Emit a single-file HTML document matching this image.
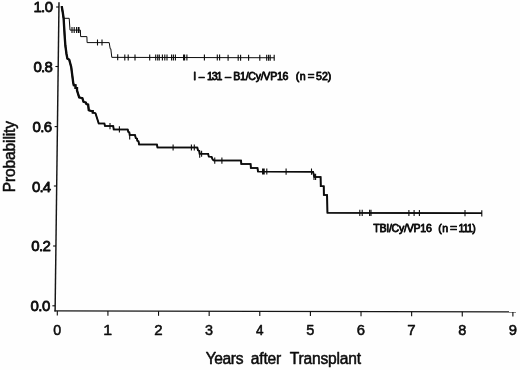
<!DOCTYPE html>
<html lang="en">
<head>
<meta charset="utf-8">
<title>Probability vs Years after Transplant</title>
<style>
html,body{margin:0;padding:0;background:#fefefe;}
body{width:520px;height:370px;overflow:hidden;font-family:"Liberation Sans",Arial,Helvetica,sans-serif;}
svg{display:block;}
</style>
</head>
<body>
<svg width="520" height="370" viewBox="0 0 520 370">
<rect width="520" height="370" fill="#fefefe"/>
<g fill="none" stroke="#0c0c0c" stroke-linecap="butt" stroke-linejoin="miter">
<path d="M59.0,2.2 L55.1,311.4" stroke-width="1.45" stroke="#161616"/>
<path d="M54.4,310.9 L516,311.9" stroke-width="1.35" stroke="#161616"/>
<path d="M56.14,7.0 L58.94,7.0" stroke-width="1.1"/>
<path d="M55.39,66.5 L58.19,66.5" stroke-width="1.1"/>
<path d="M54.63,126.6 L57.43,126.6" stroke-width="1.1"/>
<path d="M53.88,186.0 L56.68,186.0" stroke-width="1.1"/>
<path d="M53.13,246.0 L55.93,246.0" stroke-width="1.1"/>
<path d="M52.37,305.8 L55.17,305.8" stroke-width="1.1"/>
<path d="M57.30,311.00 L57.30,315.60" stroke-width="1.1"/>
<path d="M107.92,311.10 L107.92,315.70" stroke-width="1.1"/>
<path d="M158.54,311.20 L158.54,315.80" stroke-width="1.1"/>
<path d="M209.16,311.30 L209.16,315.90" stroke-width="1.1"/>
<path d="M259.78,311.40 L259.78,316.00" stroke-width="1.1"/>
<path d="M310.40,311.50 L310.40,316.10" stroke-width="1.1"/>
<path d="M361.02,311.60 L361.02,316.20" stroke-width="1.1"/>
<path d="M411.64,311.70 L411.64,316.30" stroke-width="1.1"/>
<path d="M462.26,311.79 L462.26,316.39" stroke-width="1.1"/>
<path d="M512.88,311.89 L512.88,316.49" stroke-width="1.1"/>
<path d="M61.70,6.30 L63.40,18.30 L69.20,18.30 L70.00,30.10 L80.40,30.10 L80.60,36.60 L86.90,36.60 L87.10,42.60 L109.20,42.60 L110.20,48.75 L110.80,48.75 L111.80,57.35 L274.20,57.75" stroke-width="1.0"/>
<path d="M72.00,27.10 L72.00,33.10 M74.20,27.10 L74.20,33.10 M76.60,27.10 L76.60,33.10 M78.40,27.10 L78.40,33.10 M79.00,27.10 L79.00,33.10 M97.50,39.60 L97.50,45.60 M102.00,39.60 L102.00,45.60 M117.70,54.36 L117.70,60.36 M124.80,54.38 L124.80,60.38 M128.20,54.39 L128.20,60.39 M135.00,54.41 L135.00,60.41 M149.70,54.44 L149.70,60.44 M155.70,54.46 L155.70,60.46 M157.70,54.46 L157.70,60.46 M159.30,54.47 L159.30,60.47 M162.40,54.47 L162.40,60.47 M164.80,54.48 L164.80,60.48 M167.00,54.49 L167.00,60.49 M171.60,54.50 L171.60,60.50 M173.40,54.50 L173.40,60.50 M175.40,54.51 L175.40,60.51 M183.60,54.53 L183.60,60.53 M184.60,54.53 L184.60,60.53 M186.90,54.53 L186.90,60.53 M204.40,54.58 L204.40,60.58 M217.30,54.61 L217.30,60.61 M219.60,54.62 L219.60,60.62 M228.10,54.64 L228.10,60.64 M238.20,54.66 L238.20,60.66 M240.60,54.67 L240.60,60.67 M248.60,54.69 L248.60,60.69 M259.80,54.71 L259.80,60.71 M266.70,54.73 L266.70,60.73 M268.60,54.74 L268.60,60.74 M270.20,54.74 L270.20,60.74 M274.20,54.75 L274.20,60.75" stroke-width="1.1"/>
<path transform="translate(-0.22,0)" d="M61.70,6.20 L62.70,12.00 L63.60,18.00 L64.20,28.00 L64.80,38.00 L65.40,46.00 L66.50,54.00 L67.40,58.60 L69.20,59.60 L71.20,67.00 L73.20,82.60 L73.80,85.30 L75.50,85.30 L75.50,88.00 L77.00,88.00 L77.00,90.30 L77.80,93.00 L79.20,97.40 L82.30,98.00 L83.50,101.80 L85.80,102.50 L86.50,104.20 L88.10,104.50 L88.80,110.30 L91.50,111.00 L92.70,111.00 L92.70,112.60 L95.40,112.90" stroke-width="1.9"/>
<path transform="translate(-0.22,0)" d="M95.40,112.90 L98.75,123.50 L104.40,123.50 L105.00,126.10 L113.20,126.10 L113.75,129.40 L127.70,129.40 L128.30,132.00 L129.30,132.40 L129.70,135.10 L135.00,135.10 L135.80,138.20 L137.00,138.50 L137.30,140.80 L138.50,141.20 L139.10,144.60 L156.90,144.60 L157.50,147.50 L197.30,147.50 L198.00,150.40 L199.20,150.70 L199.60,153.75 L208.10,153.75 L208.80,156.60 L211.50,156.80 L212.70,159.60 L213.80,160.60 L241.00,160.60 L241.30,164.00 L250.60,164.00 L250.90,168.00 L257.50,168.00 L258.00,171.60 L313.00,171.70 L314.40,176.90 L320.60,176.90 L320.80,186.25 L323.75,186.25 L323.90,194.90 L327.05,194.90 L327.45,212.80 L481.80,213.30" stroke-width="1.5"/>
<path transform="translate(0.22,0)" d="M61.70,6.20 L62.70,12.00 L63.60,18.00 L64.20,28.00 L64.80,38.00 L65.40,46.00 L66.50,54.00 L67.40,58.60 L69.20,59.60 L71.20,67.00 L73.20,82.60 L73.80,85.30 L75.50,85.30 L75.50,88.00 L77.00,88.00 L77.00,90.30 L77.80,93.00 L79.20,97.40 L82.30,98.00 L83.50,101.80 L85.80,102.50 L86.50,104.20 L88.10,104.50 L88.80,110.30 L91.50,111.00 L92.70,111.00 L92.70,112.60 L95.40,112.90" stroke-width="1.9"/>
<path transform="translate(0.22,0)" d="M95.40,112.90 L98.75,123.50 L104.40,123.50 L105.00,126.10 L113.20,126.10 L113.75,129.40 L127.70,129.40 L128.30,132.00 L129.30,132.40 L129.70,135.10 L135.00,135.10 L135.80,138.20 L137.00,138.50 L137.30,140.80 L138.50,141.20 L139.10,144.60 L156.90,144.60 L157.50,147.50 L197.30,147.50 L198.00,150.40 L199.20,150.70 L199.60,153.75 L208.10,153.75 L208.80,156.60 L211.50,156.80 L212.70,159.60 L213.80,160.60 L241.00,160.60 L241.30,164.00 L250.60,164.00 L250.90,168.00 L257.50,168.00 L258.00,171.60 L313.00,171.70 L314.40,176.90 L320.60,176.90 L320.80,186.25 L323.75,186.25 L323.90,194.90 L327.05,194.90 L327.45,212.80 L481.80,213.30" stroke-width="1.5"/>
<path d="M110.00,123.00 L110.00,129.20 M119.40,126.30 L119.40,132.50 M129.70,133.40 L129.70,139.60 M173.10,144.40 L173.10,150.60 M191.40,144.40 L191.40,150.60 M194.30,144.40 L194.30,150.60 M199.70,151.50 L199.70,157.70 M201.60,150.65 L201.60,156.85 M214.75,157.50 L214.75,163.70 M221.90,157.50 L221.90,163.70 M262.60,168.40 L262.60,174.60 M263.40,168.40 L263.40,174.60 M264.20,168.40 L264.20,174.60 M266.80,168.40 L266.80,174.60 M286.10,168.50 L286.10,174.70 M311.50,168.60 L311.50,174.80 M314.00,173.80 L314.00,180.00 M315.60,173.80 L315.60,180.00 M359.80,209.80 L359.80,216.00 M362.20,209.80 L362.20,216.00 M369.60,209.80 L369.60,216.00 M371.00,209.80 L371.00,216.00 M408.90,209.90 L408.90,216.10 M414.10,209.90 L414.10,216.10 M419.40,209.90 L419.40,216.10 M465.00,210.10 L465.00,216.30 M481.80,210.20 L481.80,216.40" stroke-width="1.1"/>
</g>
<g fill="#0c0c0c" stroke="#0c0c0c" stroke-width="0.8" stroke-linejoin="round" font-family="'Liberation Sans', Arial, Helvetica, sans-serif">
<text x="33.39" y="12.2" font-size="15" stroke-width="0.8" letter-spacing="-0.600">1.0</text>
<text x="33.38" y="72.0" font-size="15" stroke-width="0.8" letter-spacing="-0.655">0.8</text>
<text x="32.48" y="131.8" font-size="15" stroke-width="0.8" letter-spacing="-0.655">0.6</text>
<text x="31.98" y="191.5" font-size="15" stroke-width="0.8" letter-spacing="-0.817">0.4</text>
<text x="31.28" y="251.0" font-size="15" stroke-width="0.8" letter-spacing="-0.617">0.2</text>
<text x="30.38" y="311.2" font-size="15" stroke-width="0.8" letter-spacing="-0.442">0.0</text>
<text x="53.25" y="335.4" font-size="15" stroke-width="0.55" textLength="7.91" lengthAdjust="spacingAndGlyphs">0</text>
<text x="103.18" y="335.4" font-size="15" stroke-width="0.55" textLength="8.82" lengthAdjust="spacingAndGlyphs">1</text>
<text x="154.24" y="335.4" font-size="15" stroke-width="0.55" textLength="8.34" lengthAdjust="spacingAndGlyphs">2</text>
<text x="205.11" y="335.4" font-size="15" stroke-width="0.55" textLength="7.99" lengthAdjust="spacingAndGlyphs">3</text>
<text x="255.96" y="335.4" font-size="15" stroke-width="0.55" textLength="7.52" lengthAdjust="spacingAndGlyphs">4</text>
<text x="306.27" y="335.4" font-size="15" stroke-width="0.55" textLength="8.08" lengthAdjust="spacingAndGlyphs">5</text>
<text x="356.73" y="335.4" font-size="15" stroke-width="0.55" textLength="8.25" lengthAdjust="spacingAndGlyphs">6</text>
<text x="407.34" y="335.4" font-size="15" stroke-width="0.55" textLength="8.34" lengthAdjust="spacingAndGlyphs">7</text>
<text x="458.13" y="335.4" font-size="15" stroke-width="0.55" textLength="8.08" lengthAdjust="spacingAndGlyphs">8</text>
<text x="508.66" y="335.4" font-size="15" stroke-width="0.55" textLength="8.25" lengthAdjust="spacingAndGlyphs">9</text>
<g transform="translate(15.3,0) rotate(-90)">
<text x="-192.25" y="0" font-size="15.6" stroke-width="0.5" letter-spacing="-0.159">Probability</text>
</g>
<text x="205.79" y="363.6" font-size="15.6" stroke-width="0.5" letter-spacing="-0.415">Years</text>
<text x="250.78" y="363.6" font-size="15.6" stroke-width="0.5" letter-spacing="-0.197">after</text>
<text x="289.69" y="363.6" font-size="15.6" stroke-width="0.5" letter-spacing="-0.197">Transplant</text>
<text x="193.15" y="79.5" font-size="10.6" stroke-width="0.8" letter-spacing="0.000">I</text>
<text x="198.80" y="79.5" font-size="10.6" stroke-width="0.8" textLength="5.76" lengthAdjust="spacingAndGlyphs">–</text>
<text x="207.11" y="79.5" font-size="10.6" stroke-width="0.8" letter-spacing="-1.250">131</text>
<text x="224.90" y="79.5" font-size="10.6" stroke-width="0.8" textLength="6.16" lengthAdjust="spacingAndGlyphs">–</text>
<text x="233.35" y="79.5" font-size="10.6" stroke-width="0.8" letter-spacing="-0.295">B1/Cy/VP16</text>
<text x="295.76" y="79.5" font-size="10.6" stroke-width="0.8" letter-spacing="0.500">(n</text>
<text x="307.79" y="79.5" font-size="10.6" stroke-width="0.8" textLength="6.67" lengthAdjust="spacingAndGlyphs">=</text>
<text x="316.08" y="79.5" font-size="10.6" stroke-width="0.8" letter-spacing="-0.041">52)</text>
<text x="373.19" y="232.1" font-size="10.6" stroke-width="0.8" letter-spacing="-0.262">TBI/Cy/VP16</text>
<text x="438.16" y="232.1" font-size="10.6" stroke-width="0.8" letter-spacing="0.500">(n</text>
<text x="450.05" y="232.1" font-size="10.6" stroke-width="0.8" textLength="7.15" lengthAdjust="spacingAndGlyphs">=</text>
<text x="458.50" y="232.1" font-size="10.6" stroke-width="0.8" letter-spacing="-0.800">111)</text>
</g>
</svg>
</body>
</html>
